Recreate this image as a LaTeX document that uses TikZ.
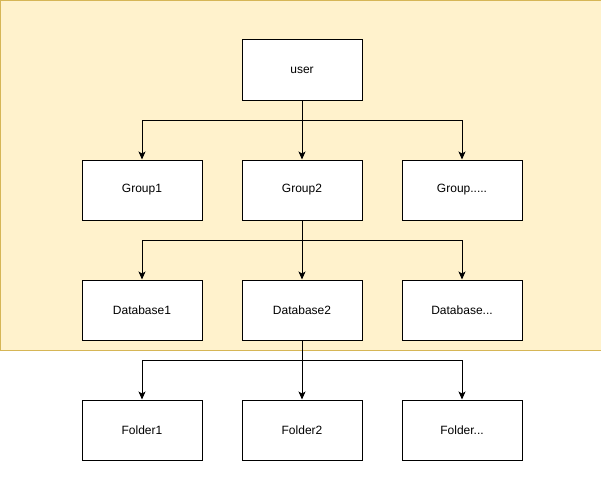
\documentclass[tikz,border=0pt]{standalone}
\usepackage{fontspec}
\setmainfont{Liberation Sans}
\usetikzlibrary{arrows.meta, positioning}
\definecolor{bgfill}{HTML}{FFF2CC}
\definecolor{bgline}{HTML}{D6B656}

\begin{document}
\begin{tikzpicture}[x=1pt, y=-1pt,
    box/.style={draw, fill=white, line width=1pt, minimum width=120pt, minimum height=60pt, font=\fontsize{12}{14}\selectfont},
    link/.style={line width=1pt, -{Stealth[length=8pt, width=7pt, inset=2pt]}}]
  \useasboundingbox (0,0) rectangle (601,484);

  % Background
  \fill[bgfill] (0,0) rectangle (601,350);
  \draw[bgline, line width=1pt] (601,0.5) -- (0.5,0.5) -- (0.5,350) -- (601,350);

  % Boxes
  \node[box] (user) at (302,70) {user};
  \node[box] (g1) at (142,190) {Group1};
  \node[box] (g2) at (302,190) {Group2};
  \node[box] (g3) at (462,190) {Group.....};
  \node[box] (d1) at (142,310) {Database1};
  \node[box] (d2) at (302,310) {Database2};
  \node[box] (d3) at (462,310) {Database...};
  \node[box] (f1) at (142,430) {Folder1};
  \node[box] (f2) at (302,430) {Folder2};
  \node[box] (f3) at (462,430) {Folder...};

  % Links
  \draw[link] (user.south) -- (g2.north);
  \draw[link] (user.south) -- ++(0,20) -| (g1.north);
  \draw[link] (user.south) -- ++(0,20) -| (g3.north);
  \draw[link] (g2.south) -- (d2.north);
  \draw[link] (g2.south) -- ++(0,20) -| (d1.north);
  \draw[link] (g2.south) -- ++(0,20) -| (d3.north);
  \draw[link] (d2.south) -- (f2.north);
  \draw[link] (d2.south) -- ++(0,20) -| (f1.north);
  \draw[link] (d2.south) -- ++(0,20) -| (f3.north);
\end{tikzpicture}
\end{document}
